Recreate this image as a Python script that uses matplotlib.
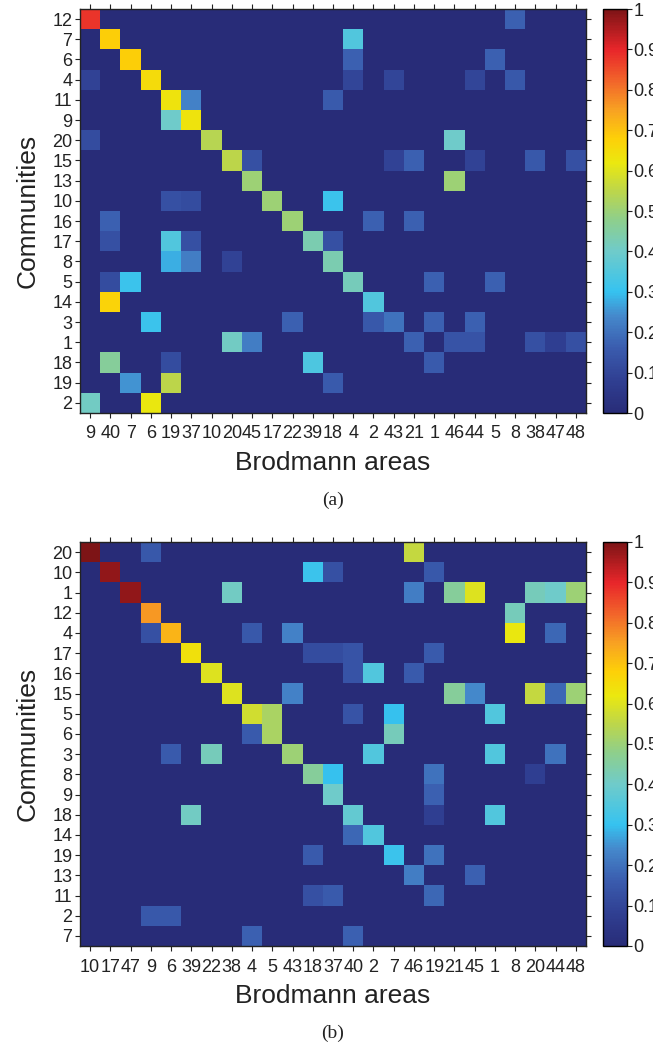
import numpy as np
import matplotlib
matplotlib.use("Agg")
import matplotlib.pyplot as plt
from matplotlib.colors import LinearSegmentedColormap

plt.rcParams['font.family'] = ['Liberation Sans', 'DejaVu Sans']

# ---- panel (a) ----
rows_a = ["12", "7", "6", "4", "11", "9", "20", "15", "13", "10",
          "16", "17", "8", "5", "14", "3", "1", "18", "19", "2"]
cols_a = ["9", "40", "7", "6", "19", "37", "10", "20", "45", "17", "22", "39", "18",
          "4", "2", "43", "21", "1", "46", "44", "5", "8", "38", "47", "48"]
# (row, column, value) for every non-background cell
cells_a = [
    ("12", "9", 0.88), ("12", "8", 0.17),
    ("7", "40", 0.68), ("7", "4", 0.35),
    ("6", "7", 0.68), ("6", "4", 0.17), ("6", "5", 0.17),
    ("4", "9", 0.09), ("4", "6", 0.65), ("4", "4", 0.10), ("4", "43", 0.10),
    ("4", "44", 0.10), ("4", "8", 0.15),
    ("11", "19", 0.63), ("11", "37", 0.23), ("11", "18", 0.16),
    ("9", "19", 0.40), ("9", "37", 0.63),
    ("20", "9", 0.12), ("20", "10", 0.54), ("20", "46", 0.40),
    ("15", "20", 0.55), ("15", "45", 0.13), ("15", "43", 0.09), ("15", "21", 0.17),
    ("15", "44", 0.09), ("15", "38", 0.15), ("15", "48", 0.13),
    ("13", "45", 0.50), ("13", "46", 0.50),
    ("10", "19", 0.13), ("10", "37", 0.12), ("10", "17", 0.50), ("10", "18", 0.31),
    ("16", "40", 0.17), ("16", "22", 0.50), ("16", "2", 0.17), ("16", "21", 0.17),
    ("17", "40", 0.13), ("17", "19", 0.35), ("17", "37", 0.13), ("17", "39", 0.43),
    ("17", "18", 0.13),
    ("8", "19", 0.28), ("8", "37", 0.22), ("8", "20", 0.09), ("8", "18", 0.43),
    ("5", "40", 0.12), ("5", "7", 0.31), ("5", "4", 0.42), ("5", "1", 0.17), ("5", "5", 0.17),
    ("14", "40", 0.67), ("14", "2", 0.35),
    ("3", "6", 0.31), ("3", "22", 0.17), ("3", "2", 0.15), ("3", "43", 0.20),
    ("3", "1", 0.17), ("3", "44", 0.17),
    ("1", "20", 0.41), ("1", "45", 0.22), ("1", "21", 0.17), ("1", "46", 0.14),
    ("1", "44", 0.14), ("1", "38", 0.13), ("1", "47", 0.08), ("1", "48", 0.13),
    ("18", "40", 0.46), ("18", "19", 0.12), ("18", "39", 0.34), ("18", "1", 0.16),
    ("19", "7", 0.25), ("19", "19", 0.55), ("19", "18", 0.16),
    ("2", "9", 0.41), ("2", "6", 0.62),
]

# ---- panel (b) ----
rows_b = ["20", "10", "1", "12", "4", "17", "16", "15", "5", "6",
          "3", "8", "9", "18", "14", "19", "13", "11", "2", "7"]
cols_b = ["10", "17", "47", "9", "6", "39", "22", "38", "4", "5", "43", "18", "37",
          "40", "2", "7", "46", "19", "21", "45", "1", "8", "20", "44", "48"]
cells_b = [
    ("20", "10", 1.00), ("20", "9", 0.15), ("20", "46", 0.56),
    ("10", "17", 0.98), ("10", "18", 0.31), ("10", "37", 0.13), ("10", "19", 0.15),
    ("1", "47", 0.98), ("1", "38", 0.41), ("1", "46", 0.22), ("1", "21", 0.46),
    ("1", "45", 0.60), ("1", "20", 0.42), ("1", "44", 0.40), ("1", "48", 0.50),
    ("12", "9", 0.76), ("12", "8", 0.42),
    ("4", "9", 0.13), ("4", "6", 0.72), ("4", "4", 0.15), ("4", "43", 0.23),
    ("4", "8", 0.62), ("4", "44", 0.18),
    ("17", "39", 0.64), ("17", "18", 0.12), ("17", "37", 0.12), ("17", "40", 0.14),
    ("17", "19", 0.16),
    ("16", "22", 0.60), ("16", "40", 0.14), ("16", "2", 0.35), ("16", "46", 0.16),
    ("15", "38", 0.60), ("15", "43", 0.23), ("15", "21", 0.46), ("15", "45", 0.24),
    ("15", "20", 0.56), ("15", "44", 0.18), ("15", "48", 0.50),
    ("5", "4", 0.58), ("5", "5", 0.52), ("5", "40", 0.14), ("5", "7", 0.30),
    ("5", "1", 0.35),
    ("6", "4", 0.16), ("6", "5", 0.52), ("6", "7", 0.42),
    ("3", "6", 0.16), ("3", "22", 0.42), ("3", "43", 0.50), ("3", "2", 0.35),
    ("3", "1", 0.35), ("3", "44", 0.20),
    ("8", "18", 0.46), ("8", "37", 0.30), ("8", "19", 0.20), ("8", "20", 0.08),
    ("9", "37", 0.40), ("9", "19", 0.17),
    ("18", "39", 0.41), ("18", "40", 0.38), ("18", "19", 0.08), ("18", "1", 0.35),
    ("14", "40", 0.18), ("14", "2", 0.35),
    ("19", "18", 0.16), ("19", "7", 0.31), ("19", "19", 0.20),
    ("13", "46", 0.22), ("13", "45", 0.17),
    ("11", "18", 0.13), ("11", "37", 0.16), ("11", "19", 0.18),
    ("2", "9", 0.15), ("2", "6", 0.15),
    ("7", "4", 0.17), ("7", "40", 0.17),
]

ticks_cb = [0, 0.1, 0.2, 0.3, 0.4, 0.5, 0.6, 0.7, 0.8, 0.9, 1]
ticklabels_cb = ["0", "0.1", "0.2", "0.3", "0.4", "0.5", "0.6", "0.7", "0.8", "0.9", "1"]

# muted jet, as printed in the figure
cmap = LinearSegmentedColormap.from_list("mjet", [
    (0.00, "#282c78"), (0.08, "#303f92"), (0.16, "#3a5cae"), (0.24, "#4589cc"),
    (0.30, "#36c3f0"), (0.40, "#6fcbca"), (0.48, "#8fcf8a"), (0.55, "#bdd64a"),
    (0.62, "#ebe80f"), (0.68, "#fdd008"), (0.75, "#f8a222"), (0.82, "#f2672a"),
    (0.90, "#e8262a"), (1.00, "#7d1416"),
])


def build(rows, cols, cells):
    m = np.zeros((len(rows), len(cols)))
    for r, c, v in cells:
        m[rows.index(r), cols.index(c)] = v
    return m


def panel(fig, rect, cbrect, rows, cols, cells, tag):
    ax = fig.add_axes(rect)
    im = ax.imshow(build(rows, cols, cells), cmap=cmap, vmin=0, vmax=1,
                   aspect="auto", interpolation="nearest")
    ax.set_xticks(range(len(cols)))
    ax.set_xticklabels(cols)
    ax.set_yticks(range(len(rows)))
    ax.set_yticklabels(rows)
    ax.tick_params(direction="out", top=True, right=True, length=3.5, width=0.8,
                   labelsize=13, colors="#222222")
    ax.tick_params(axis="x", pad=5.5)
    ax.tick_params(axis="y", pad=2)
    ax.set_xlabel("Brodmann areas", fontsize=19, labelpad=6, color="#222222")
    ax.set_ylabel("Communities", fontsize=19, labelpad=9, color="#222222")
    for s in ax.spines.values():
        s.set_linewidth(1.0)
        s.set_color("#222222")
    cax = fig.add_axes(cbrect)
    cb = fig.colorbar(im, cax=cax, ticks=ticks_cb)
    cb.ax.set_yticklabels(ticklabels_cb)
    cb.ax.tick_params(direction="out", length=3.5, width=0.8, labelsize=13,
                      right=True, left=False, colors="#222222", pad=1)
    cb.outline.set_linewidth(1.0)
    ax.text(0.5, -0.215, tag, transform=ax.transAxes, ha="center", va="center",
            fontsize=14, family="Liberation Serif", color="#222222")
    return ax


W, H = 653, 1048
fig = plt.figure(figsize=(W / 100, H / 100), dpi=100)
panel(fig, [80 / W, 1 - 413 / H, 506 / W, 404 / H],
      [603 / W, 1 - 413 / H, 24 / W, 404 / H], rows_a, cols_a, cells_a, "(a)")
panel(fig, [80 / W, 1 - 946 / H, 506 / W, 404 / H],
      [603 / W, 1 - 946 / H, 24 / W, 404 / H], rows_b, cols_b, cells_b, "(b)")
fig.savefig("out.png", dpi=100)
